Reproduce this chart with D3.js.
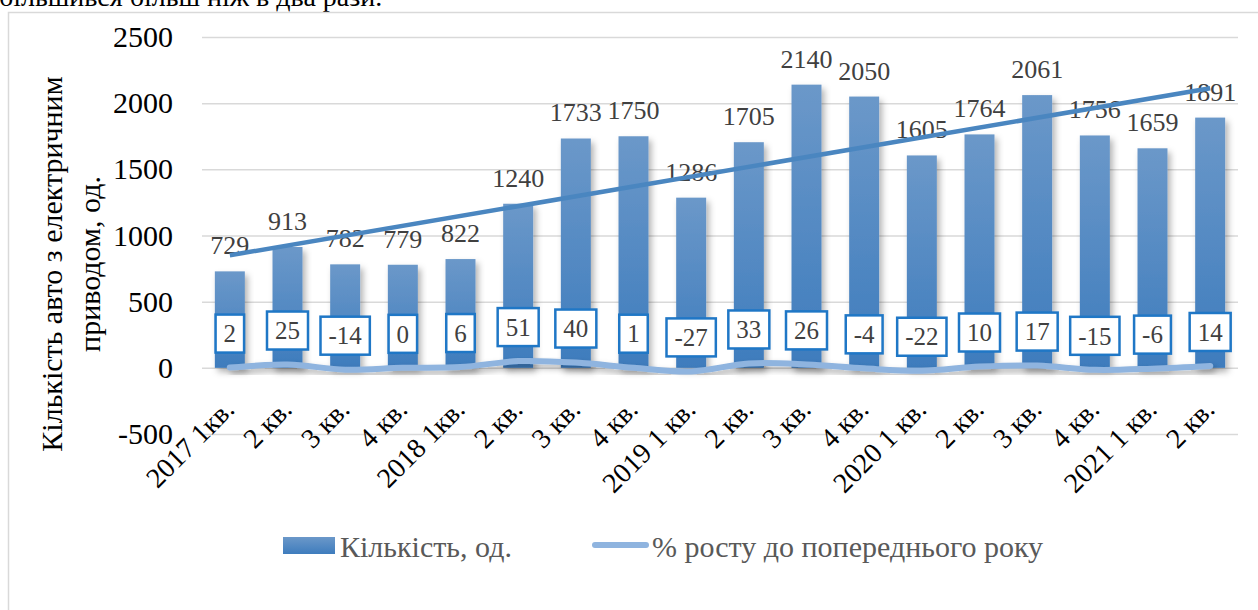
<!DOCTYPE html>
<html>
<head>
<meta charset="utf-8">
<script src="https://cdn.jsdelivr.net/npm/d3@7"></script>
</head>
<body style="margin:0;background:#fff">
<svg id="chart" width="1258" height="610"></svg>
<script>
// Quarter labels (x axis)
const categories = ['2017 1кв.', '2 кв.', '3 кв.', '4 кв.',
  '2018 1кв.', '2 кв.', '3 кв.', '4 кв.',
  '2019 1 кв.', '2 кв.', '3 кв.', '4 кв.',
  '2020 1 кв.', '2 кв.', '3 кв.', '4 кв.',
  '2021 1 кв.', '2 кв.'];

// Number of electric cars, units
const counts = [729, 913, 782, 779, 822, 1240, 1733, 1750, 1286, 1705, 2140, 2050, 1605, 1764, 2061, 1756, 1659, 1891];

// Growth to previous year, %
const growth = [2, 25, -14, 0, 6, 51, 40, 1, -27, 33, 26, -4, -22, 10, 17, -15, -6, 14];

const yTicks = [-500, 0, 500, 1000, 1500, 2000, 2500];

// Serif face on a text selection, marked important so nothing overrides it
const face = (sel, size) => sel.
  style('font-family', '"Liberation Serif"', 'important').
  style('font-size', `${size}px`, 'important');

const svg = d3.select('#chart').style('font-family', '"Liberation Serif"', 'important');

// Text cut off at the top (tail of the previous paragraph)
svg.append('text').
  attr('x', -1).attr('y', 6).
  attr('fill', '#000').
  call(face, 28).
  text('більшився більш ніж в два рази.');

// Chart frame
svg.append('path').
  attr('d', 'M8.5,610 L8.5,12.5 L1258,12.5').
  attr('fill', 'none').attr('stroke', '#d9d9d9').attr('stroke-width', 1.5);

const defs = svg.append('defs');

const grad = defs.append('linearGradient').
  attr('id', 'barGrad').attr('x1', 0).attr('y1', 0).attr('x2', 0).attr('y2', 1);
grad.append('stop').attr('offset', '0%').attr('stop-color', '#6b98c9');
grad.append('stop').attr('offset', '100%').attr('stop-color', '#3e7cbd');

// Soft shadow used by bars and the growth line
const shadow = defs.append('filter').
  attr('id', 'shadow').attr('x', '-30%').attr('y', '-30%').attr('width', '160%').attr('height', '160%');
shadow.append('feDropShadow').
  attr('dx', 3).attr('dy', 4).attr('stdDeviation', 3).
  attr('flood-color', '#000').attr('flood-opacity', 0.3);

const x = d3.scaleBand().
  domain(d3.range(categories.length)).
  range([201, 1239]).
  paddingInner(0.48).
  paddingOuter(0.24);

const y = d3.scaleLinear().domain([-500, 2500]).range([434, 37]);

const cx = (i) => x(i) + x.bandwidth() / 2;

// Gridlines
svg.append('g').
  attr('transform', 'translate(202,0)').
  call(d3.axisLeft(y).tickValues(yTicks).tickSize(-1036).tickFormat('')).
  call((g) => g.select('.domain').remove()).
  call((g) => g.selectAll('line').attr('stroke', '#d9d9d9').attr('stroke-width', 1.5));

// Y axis labels
svg.append('g').
  attr('transform', 'translate(175,0)').
  call(d3.axisLeft(y).tickValues(yTicks).tickSize(0).tickPadding(2).tickFormat((d) => String(d))).
  call((g) => g.select('.domain').remove()).
  attr('font-family', null).
  attr('font-size', null).
  call((g) => g.selectAll('text').attr('fill', '#000').call(face, 30));

// Y axis title, two lines
const title = svg.append('text').
  attr('transform', 'translate(62,264) rotate(-90)').
  attr('text-anchor', 'middle').
  attr('fill', '#000').
  call(face, 30);
title.append('tspan').attr('x', 0).attr('y', 0).text('Кількість авто з електричним');
title.append('tspan').attr('x', 0).attr('y', 38).text('приводом, од.');

// X axis labels, rotated
svg.append('g').
  selectAll('text').
  data(categories).
  join('text').
    attr('transform', (d, i) => `translate(${cx(i) + 6},411) rotate(-45)`).
    attr('text-anchor', 'end').
    attr('fill', '#000').
    call(face, 28).
    text((d) => d);

// Bars
svg.append('g').
  selectAll('rect').
  data(counts).
  join('rect').
    attr('x', (d, i) => x(i)).
    attr('y', (d) => y(d)).
    attr('width', x.bandwidth()).
    attr('height', (d) => y(0) - y(d)).
    attr('fill', 'url(#barGrad)').
    attr('filter', 'url(#shadow)');

// Growth line (same axis, smoothed)
const growthLine = d3.line().
  x((d, i) => cx(i)).
  y((d) => y(d)).
  curve(d3.curveCatmullRom);
svg.append('path').
  datum(growth).
  attr('d', growthLine).
  attr('fill', 'none').
  attr('stroke', '#8fb4df').
  attr('stroke-width', 6).
  attr('stroke-linecap', 'round').
  attr('filter', 'url(#shadow)');

// Bar value labels
svg.append('g').
  selectAll('text').
  data(counts).
  join('text').
    attr('x', (d, i) => cx(i)).
    attr('y', (d) => y(d) - 17).
    attr('text-anchor', 'middle').
    attr('fill', '#404040').
    call(face, 26).
    text((d) => d);

// Linear trendline for the bar series
const n = counts.length;
const meanX = (n - 1) / 2;
const meanY = d3.mean(counts);
const slope = d3.sum(counts, (d, i) => (i - meanX) * (d - meanY)) /
  d3.sum(counts, (d, i) => (i - meanX) * (i - meanX));
const trend = [0, n - 1].map((i) => [cx(i), y(meanY + slope * (i - meanX))]);
svg.append('path').
  attr('d', d3.line()(trend)).
  attr('stroke', '#4a86c0').
  attr('stroke-width', 4.5).
  attr('fill', 'none');

// Growth labels in boxes
const boxes = svg.append('g').
  selectAll('g').
  data(growth).
  join('g').
    attr('transform', (d, i) => `translate(${cx(i)},${y(d) - 34})`);
boxes.append('rect').
  attr('fill', '#fff').
  attr('stroke', '#1f77c6').
  attr('stroke-width', 2.5);
boxes.append('text').
  attr('text-anchor', 'middle').
  attr('dy', '0.35em').
  attr('fill', '#404040').
  call(face, 25).
  text((d) => d);
boxes.each(function() {
  const g = d3.select(this);
  const w = g.select('text').node().getComputedTextLength() + 16;
  g.select('rect').attr('x', -w / 2).attr('y', -19).attr('width', w).attr('height', 38);
});

// Legend
const legend = svg.append('g');
legend.append('rect').
  attr('x', 283).attr('y', 537).attr('width', 52).attr('height', 17).
  attr('fill', 'url(#barGrad)');
legend.append('text').
  attr('x', 340).attr('y', 557).
  attr('fill', '#595959').
  call(face, 30).
  text('Кількість, од.');
legend.append('line').
  attr('x1', 595).attr('x2', 646).attr('y1', 545).attr('y2', 545).
  attr('stroke', '#8fb4df').attr('stroke-width', 6).attr('stroke-linecap', 'round');
legend.append('text').
  attr('x', 652).attr('y', 557).
  attr('fill', '#595959').
  call(face, 30).
  text('% росту до попереднього року');
</script>
</body>
</html>
